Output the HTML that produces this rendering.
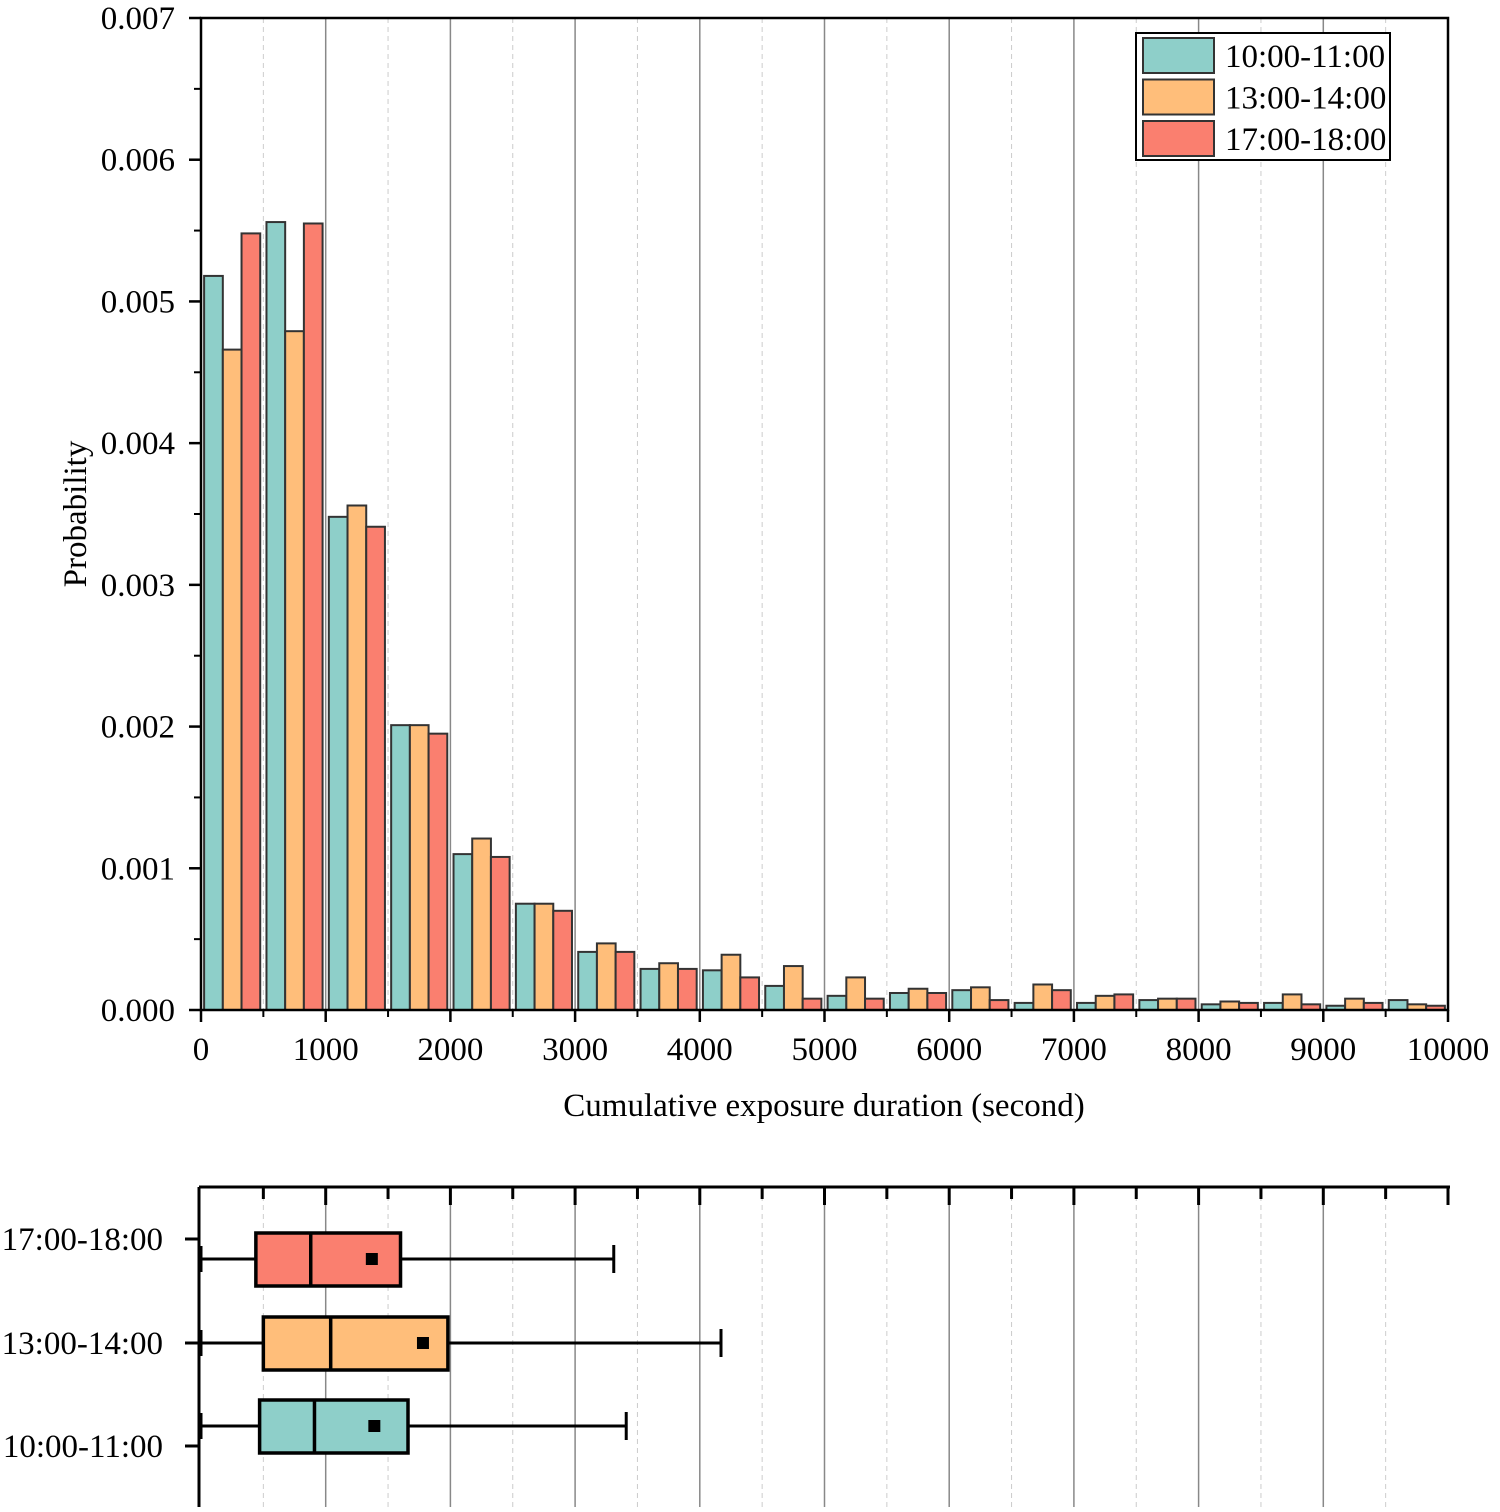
<!DOCTYPE html>
<html><head><meta charset="utf-8"><style>
body{margin:0;background:#fff;}
svg text{font-family:"Liberation Serif",serif;fill:#000;}
</style></head><body>
<svg id="c" width="1500" height="1507" xmlns="http://www.w3.org/2000/svg"></svg>
<script>
const categories=[0,500,1000,1500,2000,2500,3000,3500,4000,4500,5000,5500,6000,6500,7000,7500,8000,8500,9000,9500];
const s1=[0.00518,0.00556,0.00348,0.00201,0.00110,0.00075,0.00041,0.00029,0.00028,0.00017,0.00010,0.00012,0.00014,0.00005,0.00005,0.00007,0.00004,0.00005,0.00003,0.00007];
const s2=[0.00466,0.00479,0.00356,0.00201,0.00121,0.00075,0.00047,0.00033,0.00039,0.00031,0.00023,0.00015,0.00016,0.00018,0.00010,0.00008,0.00006,0.00011,0.00008,0.00004];
const s3=[0.00548,0.00555,0.00341,0.00195,0.00108,0.00070,0.00041,0.00029,0.00023,0.00008,0.00008,0.00012,0.00007,0.00014,0.00011,0.00008,0.00005,0.00004,0.00005,0.00003];
const seriesNames=["10:00-11:00","13:00-14:00","17:00-18:00"];
const colors=["#8ecfc9","#ffbe7a","#fa7f6f"];
const xTicks=[0,1000,2000,3000,4000,5000,6000,7000,8000,9000,10000];
const yTicks=[0,0.001,0.002,0.003,0.004,0.005,0.006,0.007];
const yTickLabels=["0.000","0.001","0.002","0.003","0.004","0.005","0.006","0.007"];
// box plot: [min, q1, median, mean, q3, max]
const boxNames=["17:00-18:00","13:00-14:00","10:00-11:00"];
const boxStats=[[0,440,880,1370,1600,3310],[0,500,1040,1780,1980,4170],[0,470,910,1390,1660,3410]];
const boxColors=["#fa7f6f","#ffbe7a","#8ecfc9"];

const svg=document.getElementById('c');
const NS="http://www.w3.org/2000/svg";
function el(t,a,p){const e=document.createElementNS(NS,t);for(const k in a)e.setAttribute(k,a[k]);(p||svg).appendChild(e);return e;}
const X0=201,X1=1448,Y0=1010,Y1=18;
const x=v=>X0+(v/10000)*(X1-X0);
const y=v=>Y0-(v/0.007)*(Y0-Y1);
const FS=33;

for(let v=500;v<10000;v+=500){
  const major=v%1000===0;
  const g=el('line',{x1:x(v),x2:x(v),y1:Y1,y2:Y0,stroke:major?'#888':'#ccc','stroke-width':major?1.5:1,'stroke-dasharray':major?'':'5,4'});
  
  
}
const bw=(x(500)-x(0))*0.9/3;
[s1,s2,s3].forEach((s,si)=>{
  s.forEach((v,i)=>{
    const bx=x(categories[i])+(x(500)-x(0))*0.05+si*bw;
    const r=el('rect',{x:bx,y:y(v),width:bw,height:Y0-y(v),fill:colors[si],stroke:'#333','stroke-width':2});
    
    
  });
});
const fr=el('rect',{x:X0,y:Y1,width:X1-X0,height:Y0-Y1,fill:'none',stroke:'#000','stroke-width':2.5});


xTicks.forEach(v=>{
  el('line',{x1:x(v),x2:x(v),y1:Y0,y2:Y0+12,stroke:'#000','stroke-width':2.5});
  const t=el('text',{x:x(v),y:Y0+50,'font-size':FS,'text-anchor':'middle'});t.textContent=v;
  
  
});
for(let v=500;v<10000;v+=1000)el('line',{x1:x(v),x2:x(v),y1:Y0,y2:Y0+7,stroke:'#000','stroke-width':2});
yTicks.forEach((v,i)=>{
  el('line',{x1:X0-12,x2:X0,y1:y(v),y2:y(v),stroke:'#000','stroke-width':2.5});
  const t=el('text',{x:X0-26,y:y(v)+11,'font-size':FS,'text-anchor':'end'});t.textContent=yTickLabels[i];
  
  
  if(i<7)el('line',{x1:X0-7,x2:X0,y1:y(v+0.0005),y2:y(v+0.0005),stroke:'#000','stroke-width':2});
});
let t=el('text',{x:824,y:1116,'font-size':FS,'text-anchor':'middle'});t.textContent='Cumulative exposure duration (second)';


t=el('text',{x:0,y:0,'font-size':FS,'text-anchor':'middle',transform:'translate(86,514) rotate(-90)'});t.textContent='Probability';


const lg=el('g',{});


el('rect',{x:1136,y:33,width:254,height:127,fill:'#fff',stroke:'#000','stroke-width':2},lg);
seriesNames.forEach((n,i)=>{
  const yy=38+i*41.5;
  const r=el('rect',{x:1143,y:yy,width:71,height:35,fill:colors[i],stroke:'#333','stroke-width':2},lg);
  
  
  const tt=el('text',{x:1225,y:yy+29,'font-size':FS},lg);tt.textContent=n;
  
  
});

const BY=1187,BL=199;
for(let v=500;v<10000;v+=500){
  const major=v%1000===0;
  el('line',{x1:x(v),x2:x(v),y1:BY,y2:1507,stroke:major?'#888':'#ccc','stroke-width':major?1.5:1,'stroke-dasharray':major?'':'5,4'});
}
el('line',{x1:BL,x2:X1+2,y1:BY,y2:BY,stroke:'#000','stroke-width':3});
el('line',{x1:BL,x2:BL,y1:BY,y2:1507,stroke:'#000','stroke-width':3});
for(let v=500;v<=10000;v+=500){el('line',{x1:x(v),x2:x(v),y1:BY,y2:BY+(v%1000===0?18:12),stroke:'#000','stroke-width':3});}
const rowY=[1259,1343,1426],labY=[1239,1343,1446];
boxStats.forEach((s,i)=>{
  const g=el('g',{});
  
  
  const cy=rowY[i];
  el('line',{x1:x(s[0]),x2:x(s[5]),y1:cy,y2:cy,stroke:'#000','stroke-width':3},g);
  el('line',{x1:x(s[0]),x2:x(s[0]),y1:cy-13,y2:cy+13,stroke:'#000','stroke-width':3},g);
  el('line',{x1:x(s[5]),x2:x(s[5]),y1:cy-14,y2:cy+14,stroke:'#000','stroke-width':3},g);
  el('rect',{x:x(s[1]),y:cy-26,width:x(s[4])-x(s[1]),height:53,fill:boxColors[i],stroke:'#000','stroke-width':3.5},g);
  el('line',{x1:x(s[2]),x2:x(s[2]),y1:cy-26,y2:cy+27,stroke:'#000','stroke-width':3.5},g);
  el('rect',{x:x(s[3])-6,y:cy-6,width:12,height:12,fill:'#000'},g);
  el('line',{x1:BL-14,x2:BL,y1:labY[i],y2:labY[i],stroke:'#000','stroke-width':3});
  const tt=el('text',{x:163,y:labY[i]+11,'font-size':FS,'text-anchor':'end'});tt.textContent=boxNames[i];
  
  
});
</script>
</body></html>
